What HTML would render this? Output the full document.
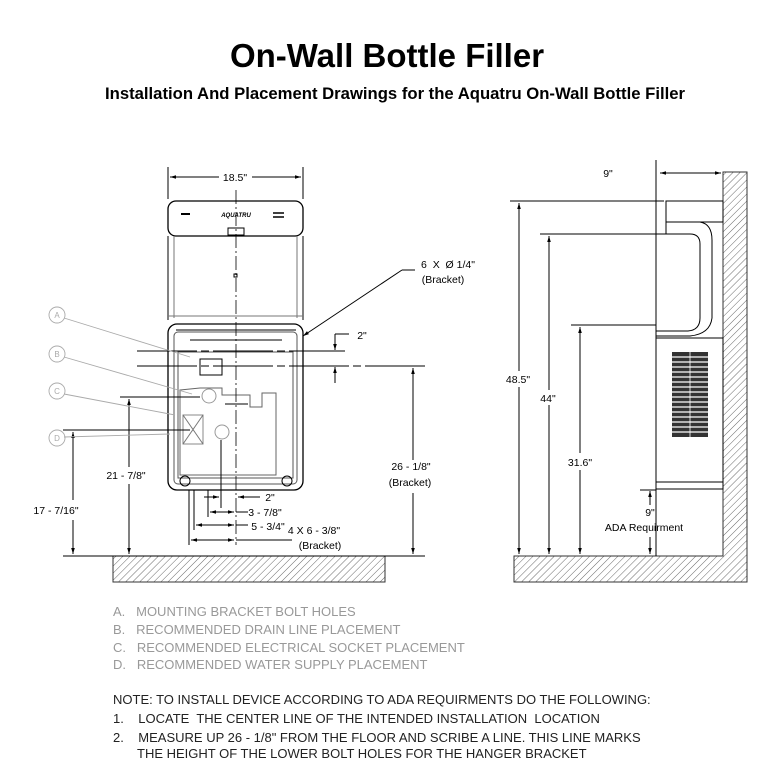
<!DOCTYPE html>
<html><head><meta charset="utf-8"><style>
body{margin:0;background:#fff;width:784px;height:772px;overflow:hidden;font-family:"Liberation Sans",sans-serif}
svg{position:absolute;left:0;top:0}
text{white-space:pre}
</style></head><body>
<svg width="784" height="772" viewBox="0 0 784 772" xmlns="http://www.w3.org/2000/svg" font-family="Liberation Sans, sans-serif">
<defs>
<pattern id="h" width="5" height="5" patternUnits="userSpaceOnUse" patternTransform="rotate(45)"><line x1="0" y1="0" x2="0" y2="5" stroke="#444" stroke-width="0.8"/></pattern>
<marker id="a" viewBox="0 0 10 10" refX="10" refY="5" markerWidth="6" markerHeight="6" orient="auto-start-reverse"><path d="M0,2 L10,5 L0,8z" fill="#000"/></marker>
</defs>
<text x="387" y="67" text-anchor="middle" font-size="33" font-weight="bold" letter-spacing="0">On-Wall Bottle Filler</text>
<text x="395" y="99" text-anchor="middle" font-size="16.5" font-weight="bold" textLength="580" lengthAdjust="spacingAndGlyphs">Installation And Placement Drawings for the Aquatru On-Wall Bottle Filler</text>

<g stroke="#000" fill="none" stroke-width="1">
<rect x="113" y="556" width="272" height="26" fill="url(#h)" stroke="#333"/>
<line x1="63" y1="556" x2="425" y2="556"/>
<rect x="168" y="201" width="135" height="35" rx="8" stroke-width="1.3"/>
<line x1="181" y1="214" x2="190" y2="214" stroke-width="2"/>
<line x1="273" y1="213" x2="284" y2="213" stroke-width="1.5"/><line x1="273" y1="217" x2="284" y2="217" stroke-width="1.5"/>
<line x1="168" y1="236" x2="168" y2="320"/><line x1="303" y1="236" x2="303" y2="320"/>
<line x1="174" y1="236" x2="174" y2="318" stroke="#777"/><line x1="297" y1="236" x2="297" y2="318" stroke="#777"/>
<line x1="168" y1="316" x2="303" y2="316" stroke="#777"/>
<rect x="168" y="324" width="135" height="166" rx="9" stroke-width="1.3"/>
<rect x="174" y="332" width="123" height="152" rx="4" stroke="#555"/>
<rect x="178" y="352" width="115" height="126" stroke="#555"/>
<rect x="200" y="359" width="22" height="16"/>
<path d="M180,390 L200,388 L222,388 L222,395 L250,395 L250,407 L262,407 L262,393 L276,393 L276,475 L180,475z" stroke="#666"/>
<rect x="183" y="415" width="20" height="29" stroke="#888"/>
<line x1="183" y1="415" x2="203" y2="444" stroke="#777"/><line x1="203" y1="415" x2="183" y2="444" stroke="#777"/>
<circle cx="209" cy="396" r="7" stroke="#999"/><circle cx="222" cy="432" r="7" stroke="#999"/>
<circle cx="185" cy="481" r="5"/><circle cx="287" cy="481" r="5"/>
<line x1="225" y1="404" x2="248" y2="404"/>
<line x1="176" y1="330" x2="296" y2="330"/><line x1="190" y1="340" x2="282" y2="340"/>
<line x1="236" y1="190" x2="236" y2="545" stroke-dasharray="14,3,2,3" stroke-width="0.8"/>
<rect x="234" y="274" width="3" height="3"/>
<rect x="228" y="228" width="16" height="7"/>
<line x1="168" y1="167" x2="168" y2="199"/><line x1="303" y1="167" x2="303" y2="199"/>
<line x1="170" y1="177" x2="219" y2="177" marker-start="url(#a)"/><line x1="252" y1="177" x2="301" y2="177" marker-end="url(#a)"/>
<line x1="137" y1="351" x2="345" y2="351" stroke-dasharray="60,4,8,4"/>
<line x1="137" y1="366" x2="425" y2="366" stroke-dasharray="60,4,8,4"/>
<line x1="335" y1="334" x2="335" y2="350" marker-end="url(#a)"/><line x1="335" y1="334" x2="349" y2="334"/>
<line x1="335" y1="383" x2="335" y2="367" marker-end="url(#a)"/>
<line x1="413" y1="368" x2="413" y2="460" marker-start="url(#a)"/><line x1="413" y1="493" x2="413" y2="554" marker-end="url(#a)"/>
<line x1="120" y1="397" x2="200" y2="397"/>
<line x1="129" y1="399" x2="129" y2="467" marker-start="url(#a)"/><line x1="129" y1="484" x2="129" y2="554" marker-end="url(#a)"/>
<line x1="63" y1="430" x2="190" y2="430"/>
<line x1="73" y1="432" x2="73" y2="500" marker-start="url(#a)"/><line x1="73" y1="520" x2="73" y2="554" marker-end="url(#a)"/>
<line x1="415" y1="270" x2="402" y2="270"/><line x1="402" y1="270" x2="303" y2="336" marker-end="url(#a)"/>
<line x1="189" y1="490" x2="189" y2="545"/><line x1="194" y1="490" x2="194" y2="530"/><line x1="208" y1="490" x2="208" y2="517"/><line x1="221" y1="440" x2="221" y2="508"/>
<line x1="204" y1="497" x2="219" y2="497" marker-end="url(#a)"/><line x1="260" y1="497" x2="238" y2="497" marker-end="url(#a)"/>
<line x1="210" y1="512" x2="234" y2="512" marker-start="url(#a)" marker-end="url(#a)"/><line x1="236" y1="512" x2="248" y2="512"/>
<line x1="196" y1="525" x2="234" y2="525" marker-start="url(#a)" marker-end="url(#a)"/><line x1="236" y1="525" x2="248" y2="525"/>
<line x1="191" y1="540" x2="234" y2="540" marker-start="url(#a)" marker-end="url(#a)"/><line x1="236" y1="540" x2="292" y2="540"/>
</g>
<text x="236" y="217" text-anchor="middle" font-size="6" font-weight="bold" font-style="italic">AQUATRU</text>
<g stroke="#aaa" fill="none" stroke-width="0.9">
<circle cx="57" cy="315" r="8"/><circle cx="57" cy="354" r="8"/><circle cx="57" cy="391" r="8"/><circle cx="57" cy="438" r="8"/>
<line x1="64" y1="318" x2="190" y2="357"/><line x1="64" y1="357" x2="192" y2="394"/><line x1="64" y1="394" x2="175" y2="415"/><line x1="64" y1="437" x2="170" y2="434"/>
</g>
<g font-size="8" fill="#aaa" text-anchor="middle"><text x="57" y="318">A</text><text x="57" y="357">B</text><text x="57" y="394">C</text><text x="57" y="441">D</text></g>
<g font-size="10.5" fill="#000" text-anchor="middle">
<text x="235" y="181">18.5"</text>
<text x="448" y="268">6  X  Ø 1/4"</text><text x="443" y="283">(Bracket)</text>
<text x="362" y="339">2"</text>
<text x="411" y="470">26 - 1/8"</text><text x="410" y="486">(Bracket)</text>
<text x="126" y="479">21 - 7/8"</text>
<text x="56" y="514">17 - 7/16"</text>
<text x="270" y="501">2"</text><text x="265" y="516">3 - 7/8"</text><text x="268" y="530">5 - 3/4"</text>
<text x="314" y="534">4 X 6 - 3/8"</text><text x="320" y="549">(Bracket)</text>
</g>

<g stroke="#000" fill="none" stroke-width="1">
<path d="M723,172 H747 V582 H514 V556 H723z" fill="url(#h)" stroke="#333"/>
<line x1="656" y1="160" x2="656" y2="556"/>
<rect x="666" y="201" width="57" height="21"/>
<path d="M666,222 V234 H690 Q700,234 700,244 V318 Q700,330 688,331 H656"/>
<path d="M666,222 H700 Q712,224 712,240 V318 Q710,334 690,336 H656"/>
<rect x="656" y="338" width="67" height="151"/>
<line x1="656" y1="482" x2="723" y2="482"/>
<rect x="672" y="352" width="36" height="85" fill="#333" stroke="none"/>
<line x1="660" y1="173" x2="721" y2="173" marker-start="url(#a)" marker-end="url(#a)"/>
<line x1="510" y1="201" x2="664" y2="201"/>
<line x1="540" y1="234" x2="680" y2="234"/>
<line x1="571" y1="325" x2="656" y2="325"/>
<line x1="640" y1="490" x2="656" y2="490"/>
<line x1="519" y1="203" x2="519" y2="371" marker-start="url(#a)"/><line x1="519" y1="387" x2="519" y2="554" marker-end="url(#a)"/>
<line x1="549" y1="236" x2="549" y2="390" marker-start="url(#a)"/><line x1="549" y1="405" x2="549" y2="554" marker-end="url(#a)"/>
<line x1="580" y1="327" x2="580" y2="453" marker-start="url(#a)"/><line x1="580" y1="470" x2="580" y2="554" marker-end="url(#a)"/>
<line x1="650" y1="505" x2="650" y2="491" marker-end="url(#a)"/><line x1="650" y1="537" x2="650" y2="554" marker-end="url(#a)"/>
</g>
<g stroke="#fff" stroke-width="1.2">
<line x1="672" y1="357" x2="708" y2="357"/><line x1="672" y1="362" x2="708" y2="362"/><line x1="672" y1="367" x2="708" y2="367"/><line x1="672" y1="372" x2="708" y2="372"/><line x1="672" y1="377" x2="708" y2="377"/><line x1="672" y1="382" x2="708" y2="382"/><line x1="672" y1="387" x2="708" y2="387"/><line x1="672" y1="392" x2="708" y2="392"/><line x1="672" y1="397" x2="708" y2="397"/><line x1="672" y1="402" x2="708" y2="402"/><line x1="672" y1="407" x2="708" y2="407"/><line x1="672" y1="412" x2="708" y2="412"/><line x1="672" y1="417" x2="708" y2="417"/><line x1="672" y1="422" x2="708" y2="422"/><line x1="672" y1="427" x2="708" y2="427"/><line x1="672" y1="432" x2="708" y2="432"/>
<line x1="690" y1="352" x2="690" y2="437" stroke-width="0.8"/>
</g>
<g font-size="10.5" fill="#000" text-anchor="middle">
<text x="608" y="177">9"</text>
<text x="518" y="383">48.5"</text><text x="548" y="402">44"</text><text x="580" y="466">31.6"</text>
<text x="650" y="516">9"</text><text x="644" y="531">ADA Requirment</text>
</g>

<g font-size="13" fill="#999">
<text x="113" y="616">A.   MOUNTING BRACKET BOLT HOLES</text>
<text x="113" y="634">B.   RECOMMENDED DRAIN LINE PLACEMENT</text>
<text x="113" y="652">C.   RECOMMENDED ELECTRICAL SOCKET PLACEMENT</text>
<text x="113" y="669">D.   RECOMMENDED WATER SUPPLY PLACEMENT</text>
</g>
<g font-size="13" fill="#222">
<text x="113" y="704">NOTE: TO INSTALL DEVICE ACCORDING TO ADA REQUIRMENTS DO THE FOLLOWING:</text>
<text x="113" y="723">1.    LOCATE  THE CENTER LINE OF THE INTENDED INSTALLATION  LOCATION</text>
<text x="113" y="742">2.    MEASURE UP 26 - 1/8" FROM THE FLOOR AND SCRIBE A LINE. THIS LINE MARKS</text>
<text x="137" y="758">THE HEIGHT OF THE LOWER BOLT HOLES FOR THE HANGER BRACKET</text>
</g>
</svg>
</body></html>
